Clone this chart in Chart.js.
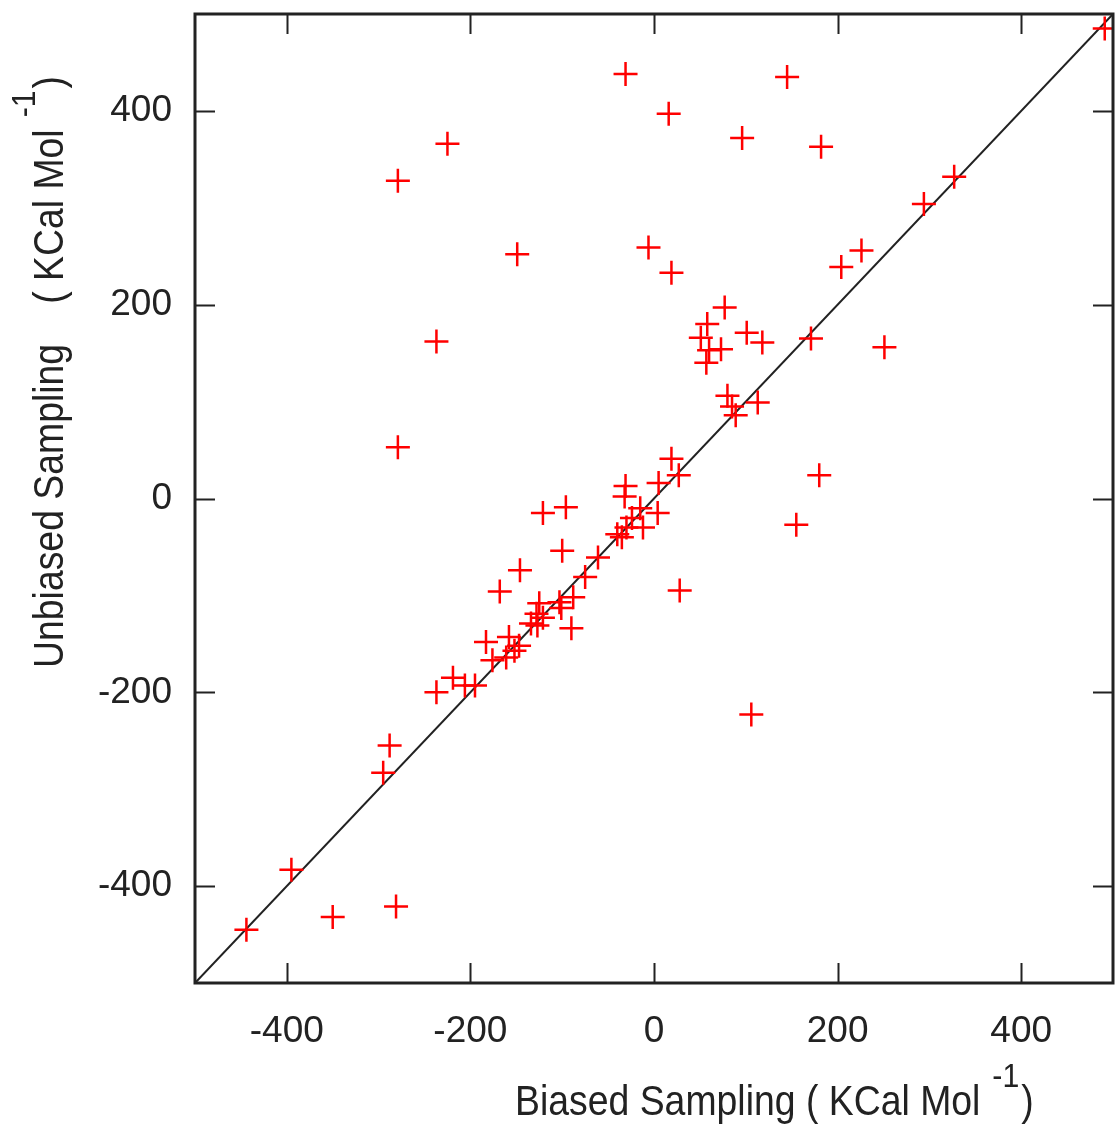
<!DOCTYPE html>
<html>
<head>
<meta charset="utf-8">
<script src="https://cdn.jsdelivr.net/npm/chart.js@4.4.1/dist/chart.umd.min.js"></script>
<style>
  html, body { margin: 0; padding: 0; background: #fff; overflow: hidden; }
  canvas { display: block; }
</style>
</head>
<body>
<canvas id="myChart" width="1116" height="1124"></canvas>
<script>
(() => {
  "use strict";

  // Data (KCal/mol)
  const biasedX = [
    491, -31, 145, 16, 96, 182, -225, -279, 327, 294, -149, -6, 19, 204, 226, 77, -237, 251, 171, 101, 118,
    58, 51, 60, 73, 57, 80, 85, 89, 113, 19, 27, 180,
    -279, 155, 28, 106,
    -31, 5, -32, -15, 4, -24, -12, -30, -40, -35,
    -121, -96, -100, -61, -75, -146, -168, -88, -103, -125, -101, -128, -121, -134, -127, -90,
    -158, -183, -147, -152, -176, -161,
    -219, -206, -195, -237, -288, -295, -395, -350, -281, -444
  ];
  const unbiasedY = [
    485, 438, 435, 397, 372, 363, 366, 328, 332, 304, 252, 259, 233, 239, 256, 197, 162, 156, 165, 171, 161,
    180, 166, 153, 154, 140, 106, 95, 86, 99, 41, 24, 24,
    53, -27, -95, -223,
    13, 16, 2, -10, -15, -20, -30, -30, -37, -40,
    -15, -9, -54, -61, -81, -74, -96, -102, -107, -108, -113, -119, -123, -129, -131, -134,
    -143, -148, -152, -157, -167, -164,
    -185, -193, -193, -200, -255, -283, -383, -432, -421, -445
  ];
  const axisRange = [-500, 500];
  const tickValues = [-400, -200, 0, 200, 400];

  const FONT = "'Liberation Sans', Arial, sans-serif";
  const TEXT_COLOR = "#222";

  const points = biasedX.map((x, i) => ({ x: x, y: unbiasedY[i] }));
  const diagonal = axisRange.map((v) => ({ x: v, y: v }));

  // draw a run of text pieces, squeezed a bit horizontally like the original
  function drawPieces(ctx, pieces, squeeze) {
    let pos = 0;
    pieces.forEach((p) => {
      ctx.font = p.size + "px " + FONT;
      ctx.fillText(p.text, pos / squeeze, p.rise ? -p.rise : 0);
      pos += ctx.measureText(p.text).width * squeeze + (p.gap || 0);
    });
  }

  const frame = {
    id: "frame",
    afterDatasetsDraw(chart) {
      const ctx = chart.ctx;
      const a = chart.chartArea;
      const xs = chart.scales.x;
      const ys = chart.scales.y;
      const tl = 20;

      ctx.save();
      ctx.strokeStyle = "#222";
      ctx.lineWidth = 2;
      ctx.beginPath();
      xs.ticks.forEach((t) => {
        const px = Math.round(xs.getPixelForValue(t.value)) + 0.5;
        ctx.moveTo(px, a.bottom); ctx.lineTo(px, a.bottom - tl);
        ctx.moveTo(px, a.top); ctx.lineTo(px, a.top + tl);
      });
      ys.ticks.forEach((t) => {
        const py = Math.round(ys.getPixelForValue(t.value)) + 0.5;
        ctx.moveTo(a.left, py); ctx.lineTo(a.left + tl, py);
        ctx.moveTo(a.right, py); ctx.lineTo(a.right - tl, py);
      });
      ctx.stroke();

      ctx.lineWidth = 3;
      ctx.strokeRect(a.left, a.top, a.right - a.left, a.bottom - a.top);

      // axis titles
      ctx.fillStyle = TEXT_COLOR;
      ctx.textBaseline = "alphabetic";
      ctx.textAlign = "left";
      const sq = 0.89;

      ctx.save();
      ctx.translate(515, 1115);
      ctx.scale(sq, 1);
      drawPieces(ctx, [
        { text: "Biased Sampling ( KCal Mol", size: 42, gap: 12 },
        { text: "-1", size: 34, rise: 28, gap: 2 },
        { text: ")", size: 42 }
      ], sq);
      ctx.restore();

      ctx.save();
      ctx.translate(63, 668);
      ctx.rotate(-Math.PI / 2);
      ctx.scale(sq, 1);
      drawPieces(ctx, [
        { text: "Unbiased Sampling", size: 42, gap: 40 },
        { text: "( KCal Mol", size: 42, gap: 12 },
        { text: "-1", size: 34, rise: 28, gap: 2 },
        { text: ")", size: 42 }
      ], sq);
      ctx.restore();

      ctx.restore();
    }
  };

  const tickOpts = (pad) => ({
    font: { family: FONT, size: 37 },
    color: TEXT_COLOR,
    padding: pad
  });

  const ctx = document.getElementById("myChart");
  new Chart(ctx, {
    type: "scatter",
    data: {
      datasets: [
        {
          type: "line",
          data: diagonal,
          borderColor: "#222",
          borderWidth: 2,
          pointRadius: 0,
          fill: false,
          order: 2
        },
        {
          data: points,
          pointStyle: "cross",
          pointRadius: 12,
          pointHoverRadius: 12,
          borderColor: "#ff0000",
          backgroundColor: "#ff0000",
          pointBorderWidth: 2.5,
          order: 1
        }
      ]
    },
    plugins: [frame],
    options: {
      responsive: false,
      animation: false,
      events: [],
      layout: { autoPadding: false, padding: { top: 14, right: 3, left: 0, bottom: 0 } },
      plugins: {
        legend: { display: false },
        tooltip: { enabled: false }
      },
      scales: {
        x: {
          type: "linear",
          min: axisRange[0],
          max: axisRange[1],
          afterBuildTicks: (s) => { s.ticks = tickValues.map((v) => ({ value: v })); },
          afterFit: (s) => { s.height = 141; s.paddingLeft = 0; s.paddingRight = 0; },
          grid: { display: false, drawTicks: false },
          border: { display: false },
          ticks: tickOpts(27)
        },
        y: {
          type: "linear",
          min: axisRange[0],
          max: axisRange[1],
          afterBuildTicks: (s) => { s.ticks = tickValues.map((v) => ({ value: v })); },
          afterFit: (s) => { s.width = 195; s.paddingTop = 0; s.paddingBottom = 0; },
          grid: { display: false, drawTicks: false },
          border: { display: false },
          ticks: tickOpts(23)
        }
      }
    }
  });
})();
</script>
</body>
</html>
